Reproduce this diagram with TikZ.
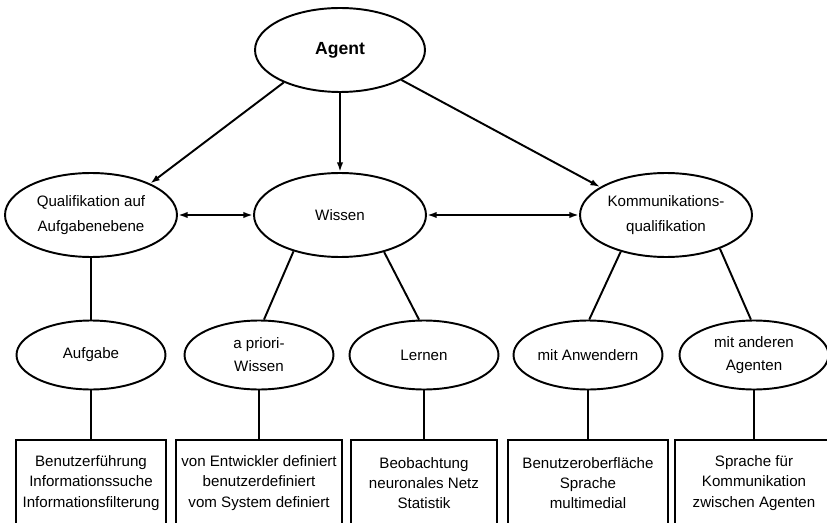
\documentclass[tikz,border=0pt]{standalone}
\usepackage{fontspec}
\setmainfont{Liberation Sans}
\usetikzlibrary{shapes.geometric,arrows.meta}

\begin{document}
\begin{tikzpicture}[x=0.02cm,y=-0.02cm,line width=1.1pt,
    every node/.style={align=center,inner sep=0pt,font=\fontsize{8.6}{14}\selectfont},
    topell/.style={draw,ellipse,minimum width=3.44cm,minimum height=1.68cm},
    subell/.style={draw,ellipse,minimum width=2.98cm,minimum height=1.38cm,font=\fontsize{8.6}{13}\selectfont},
    listbox/.style={anchor=north,minimum height=1.68cm,font=\fontsize{8.6}{11.5}\selectfont},
    oneway/.style={-{Latex[length=5.5pt,width=3.6pt]}},
    twoway/.style={{Latex[length=5.5pt,width=3.6pt]}-{Latex[length=5.5pt,width=3.6pt]}}]

    \useasboundingbox (0,0) rectangle (827,523);

    % Define the top levels
    \node[draw,ellipse,minimum width=3.4cm,minimum height=1.68cm,font=\fontsize{10}{12}\bfseries] (agent) at (340,50) {Agent};

    \node[topell] (qual) at (91,215) {Qualifikation auf\\Aufgabenebene};
    \node[topell] (wissen) at (340,215) {Wissen};
    \node[topell] (komm) at (666,215) {Kommunikations-\\qualifikation};

    \node[subell] (aufg) at (91,355) {Aufgabe};
    \node[subell] (apriori) at (259,355) {a priori-\\Wissen};
    \node[subell] (lernen) at (424,355) {Lernen};
    \node[subell] (anw) at (588,355) {mit Anwendern};
    \node[subell] (agenten) at (754,355) {mit anderen\\Agenten};

    % Define the boxes, open at the bottom
    \node[listbox,minimum width=2.96cm] (b1) at (91,440) {Benutzerführung\\Informationssuche\\Informationsfilterung};
    \node[listbox,minimum width=3.3cm] (b2) at (259,440) {von Entwickler definiert\\benutzerdefiniert\\vom System definiert};
    \node[listbox,minimum width=2.9cm] (b3) at (424,440) {Beobachtung\\neuronales Netz\\Statistik};
    \node[listbox,minimum width=3.18cm] (b4) at (588,440) {Benutzeroberfläche\\Sprache\\multimedial};
    \node[listbox,minimum width=3.12cm] (b5) at (754,440) {Sprache für\\Kommunikation\\zwischen Agenten};

    \foreach \b in {b1,b2,b3,b4,b5}
        \draw (\b.south west) -- (\b.north west) -- (\b.north east) -- (\b.south east);

    \draw[oneway] (agent.210) -- (qual.28);
    \draw[oneway] (agent) -- (wissen);
    \draw[oneway] (agent.334) -- (komm.157);

    \draw[twoway] (qual) -- (wissen);
    \draw[twoway] (wissen) -- (komm);

    \draw (qual) -- (aufg);
    \draw (wissen.218) -- (apriori.82);
    \draw (wissen.320) -- (lernen.98);
    \draw (komm.219) -- (anw.88);
    \draw (komm.328) -- (agenten.95);

    \draw (aufg) -- (b1);
    \draw (apriori) -- (b2);
    \draw (lernen) -- (b3);
    \draw (anw) -- (b4);
    \draw (agenten) -- (b5);

\end{tikzpicture}
\end{document}
